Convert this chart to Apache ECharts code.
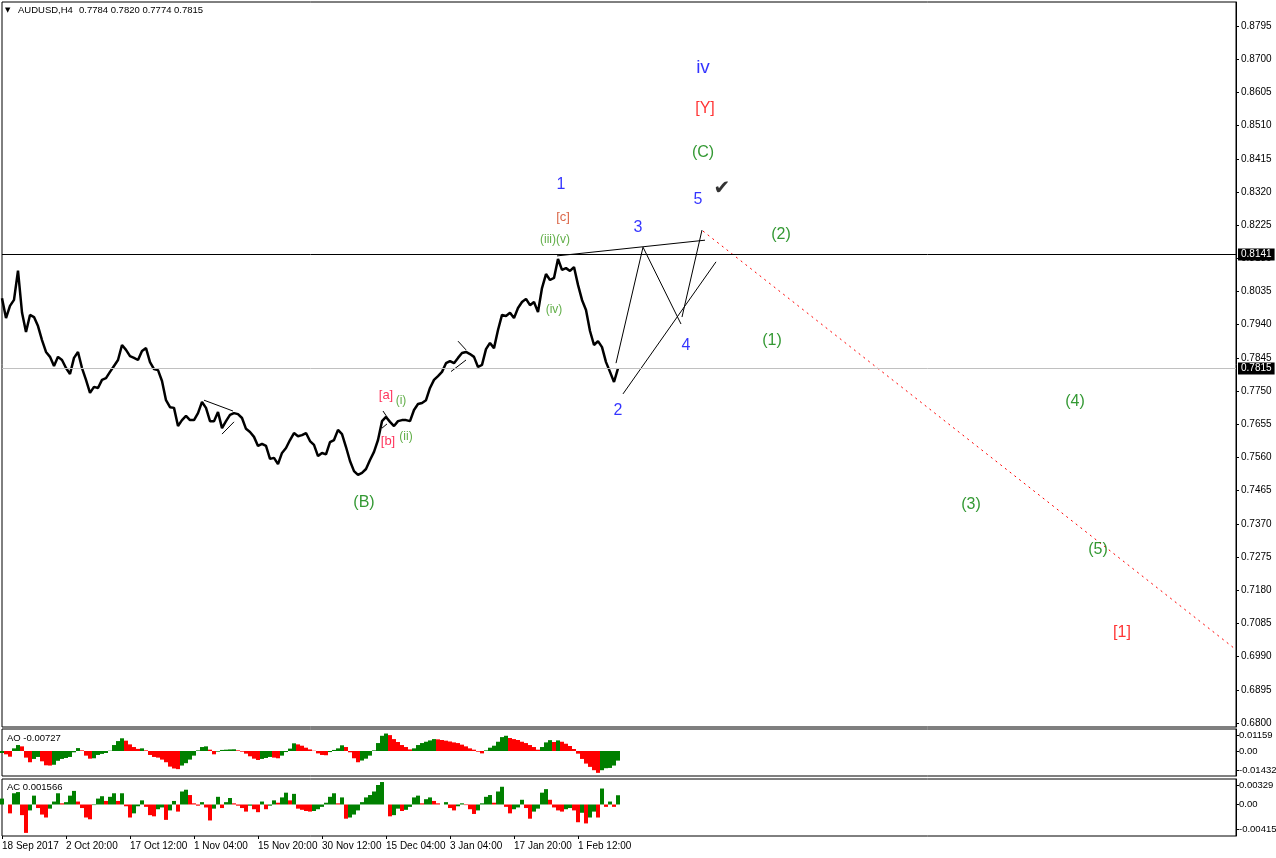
<!DOCTYPE html>
<html><head><meta charset="utf-8">
<script src="https://cdn.jsdelivr.net/npm/echarts@6/dist/echarts.min.js"></script>
<style>html,body{margin:0;padding:0;background:#fff}#c{width:1276px;height:858px}</style>
</head><body><div id="c"></div>
<script>
// ---------- data ----------
const STEP = 4;               // bars between samples
const BARS_PER_LABEL = 64;    // bars between time labels
const TOTAL_BARS = 1234;      // visible bars incl. future space
const timeLabels = ['18 Sep 2017','2 Oct 20:00','17 Oct 12:00','1 Nov 04:00','15 Nov 20:00','30 Nov 12:00','15 Dec 04:00','3 Jan 04:00','17 Jan 20:00','1 Feb 12:00'];
const priceTicks = [0.8795,0.8700,0.8605,0.8510,0.8415,0.8320,0.8225,0.8130,0.8035,0.7940,0.7845,0.7750,0.7655,0.7560,0.7465,0.7370,0.7275,0.7180,0.7085,0.6990,0.6895,0.6800];
const aoTicks = [0.01159, 0, -0.01432];
const acTicks = [0.00329, 0, -0.00415];
const symbolName = 'AUDUSD,H4';
const lastBar = [0.7784, 0.7820, 0.7774, 0.7815];
const levelLine = 0.8141;
const bidLine = 0.7815;

const closes = [
0.8016,0.7959,0.7994,0.8011,0.8095,0.7975,0.7919,0.7968,0.7962,0.7936,
0.7896,0.7862,0.7848,0.7822,0.7848,0.7839,0.7816,0.7799,0.7845,0.7862,
0.7816,0.7782,0.7745,0.7762,0.7759,0.7782,0.7787,0.7805,0.7822,0.7839,
0.7882,0.7868,0.7850,0.7845,0.7839,0.7865,0.7873,0.7833,0.7813,0.7810,
0.7779,0.7724,0.7704,0.7702,0.7650,0.7667,0.7679,0.7667,0.7667,0.7687,
0.7719,0.7702,0.7664,0.7664,0.7690,0.7644,0.7664,0.7682,0.7687,0.7684,
0.7673,0.7642,0.7633,0.7619,0.7593,0.7599,0.7593,0.7556,0.7559,0.7541,
0.7573,0.7587,0.7610,0.7630,0.7621,0.7624,0.7630,0.7607,0.7596,0.7564,
0.7573,0.7569,0.7604,0.7610,0.7639,0.7627,0.7590,0.7550,0.7521,0.7510,
0.7516,0.7527,0.7553,0.7576,0.7610,0.7664,0.7676,0.7662,0.7650,0.7664,
0.7667,0.7667,0.7664,0.7696,0.7713,0.7716,0.7724,0.7759,0.7782,0.7793,
0.7805,0.7830,0.7836,0.7830,0.7845,0.7859,0.7862,0.7856,0.7848,0.7819,
0.7825,0.7870,0.7888,0.7873,0.7925,0.7968,0.7965,0.7974,0.7959,0.7988,
0.8005,0.8014,0.7996,0.8005,0.7976,0.8045,0.8085,0.8068,0.8074,0.8128,
0.8097,0.8102,0.8094,0.8105,0.8054,0.8011,0.7982,0.7922,0.7882,0.7893,
0.7876,0.7833,0.7805,0.7776,0.7815];

const ao = [
-0.0015,-0.0025,-0.0043,0.002,0.0045,0.0035,-0.005,-0.0085,-0.006,-0.0045,
-0.0078,-0.0108,-0.011,-0.0104,-0.0074,-0.006,-0.0053,-0.0045,-0.001,0.0022,
0.0005,-0.0035,-0.0058,-0.0055,-0.003,-0.0022,-0.0015,0.0002,0.0045,0.0075,
0.0096,0.0078,0.005,0.003,0.0016,0.002,0.0005,-0.003,-0.0045,-0.005,
-0.0065,-0.0085,-0.0118,-0.0132,-0.0137,-0.011,-0.0092,-0.0065,-0.0035,0.0005,
0.003,0.0035,0.001,-0.0025,-0.0005,0.0008,0.001,0.0012,0.0013,0.0005,
-0.0005,-0.002,-0.004,-0.0058,-0.0068,-0.006,-0.0053,-0.0045,-0.005,-0.0055,
-0.0035,-0.0008,0.0018,0.0058,0.005,0.004,0.0025,0.0012,0.0002,-0.0018,
-0.003,-0.0032,-0.0008,0.0008,0.002,0.0043,0.003,-0.001,-0.0055,-0.0085,
-0.0072,-0.0058,-0.0035,0.0005,0.006,0.0115,0.0132,0.012,0.009,0.0068,
0.0045,0.003,0.0012,0.002,0.0045,0.006,0.007,0.008,0.009,0.0088,
0.0083,0.0078,0.0072,0.0065,0.006,0.0048,0.0035,0.002,0.001,-0.0005,
-0.0018,0.0005,0.0025,0.004,0.007,0.0105,0.0115,0.0098,0.009,0.0083,
0.007,0.006,0.0045,0.003,0.001,0.003,0.0065,0.0082,0.0068,0.008,
0.007,0.0055,0.0038,0.0015,-0.002,-0.006,-0.0095,-0.012,-0.0145,-0.0165,
-0.0145,-0.013,-0.0128,-0.011,-0.00727];

const ac = [
0.001,0,-0.0015,0.0019,0.0021,-0.0018,-0.0048,-0.001,0.0015,-0.0006,
-0.0017,-0.0022,-0.0007,0.0005,0.0019,0.0002,0.0004,0.0015,0.0023,0.0005,
-0.0006,-0.0022,-0.0025,-0.0001,0.001,0.0014,0.0006,0.0013,0.0019,0.0006,
0.0019,-0.0003,-0.0022,-0.0015,-0.0003,0.0007,-0.0004,-0.0018,-0.002,-0.0008,
-0.0005,-0.0026,-0.001,0.0006,-0.0012,0.0022,0.0025,0.0016,0.0002,-0.0002,
0.0004,-0.0005,-0.0027,-0.0007,0.0013,-0.0006,0.0004,0.0011,0.0002,-0.0002,
-0.0006,-0.0012,-0.0002,-0.0008,-0.0013,0.0005,-0.0008,-0.0002,0.0007,0.0003,
0.0012,0.002,0.0007,0.0018,-0.0007,-0.0009,-0.0011,-0.0012,-0.0011,-0.0008,
-0.0004,0.0003,0.0013,0.0019,0.0002,0.0012,-0.0024,-0.0022,-0.0017,-0.001,
0.0004,0.0012,0.0016,0.0022,0.0033,0.0038,0,-0.002,-0.0018,-0.0007,
-0.0011,-0.0009,-0.0004,0.0012,0.0015,0.0002,0.0009,0.0012,0.0006,0.0002,
0,0.0004,-0.0006,-0.001,-0.0003,0.0002,-0.0001,-0.0008,-0.0016,-0.001,
0.0002,0.0013,0.0016,0.0003,0.0022,0.003,-0.0004,-0.0015,-0.0008,-0.0005,
0.0008,-0.0006,-0.0024,-0.0012,-0.0007,0.002,0.0026,0.0008,-0.0005,-0.001,
-0.0012,-0.0008,-0.0006,-0.001,-0.003,-0.0014,-0.0032,-0.0022,-0.0012,-0.0022,
0.0027,-0.0004,0.0005,-0.0004,0.001566];

// wave labels: [bar, price, text]
const blueBig     = [[701,0.8675,'iv']];
const blueLabels  = [[696,0.8297,'5'],[559,0.8340,'1'],[636,0.8217,'3'],[684,0.7879,'4'],[616,0.7693,'2']];
const redLabels   = [[703,0.8560,'[Y]'],[1120,0.7058,'[1]']];
const redSmall    = [[384,0.7739,'[a]'],[386,0.7607,'[b]']];
const brownSmall  = [[561,0.8248,'[c]']];
const greenLabels = [[701,0.8432,'(C)'],[779,0.8197,'(2)'],[770,0.7896,'(1)'],[362,0.7430,'(B)'],[1073,0.7719,'(4)'],[969,0.7424,'(3)'],[1096,0.7295,'(5)']];
const greenSmall  = [[553,0.8182,'(iii)(v)'],[552,0.7982,'(iv)'],[399,0.7722,'(i)'],[404,0.7619,'(ii)']];
const checkMarks  = [[720,0.8330,'\u2714']];

// drawn trend / wave lines: lists of [bar, price]
const waveLines = [
  [[614,0.7830],[641,0.8162],[679,0.7942]],
  [[680,0.7962],[700,0.8211]],
  [[555,0.8137],[703,0.8182]],
  [[621,0.7742],[714,0.8120]],
  [[202,0.7724],[231,0.7693]],
  [[220,0.7627],[232,0.7662]],
  [[456,0.7893],[464,0.7868]],
  [[449,0.7806],[464,0.7839]],
  [[381,0.7693],[385,0.7676]],
  [[380,0.7644],[385,0.7656]]
];
const forecastLine = [[701,0.8208],[1234,0.7010]];

// ---------- chart ----------
const FONT = 'Liberation Sans';
const chart = echarts.init(document.getElementById('c'), null, {renderer:'canvas'});

function colored(arr) {
  return arr.map((v, i) => ({
    value: [i * STEP, v],
    itemStyle: { color: (i > 0 && v < arr[i-1]) ? '#ff0000' : '#008000' }
  }));
}
function labelSeries(arr, color, size, family) {
  return {
    type: 'scatter', xAxisIndex: 0, yAxisIndex: 0, symbolSize: 1, silent: true, z: 6,
    itemStyle: { color: 'rgba(0,0,0,0)' },
    data: arr.map(d => ({ value: [d[0], d[1]], name: d[2] })),
    label: { show: true, position: 'inside', formatter: p => p.name, color: color, fontSize: size, fontFamily: family || FONT }
  };
}
const hiddenX = i => ({ type: 'value', gridIndex: i, min: 0, max: TOTAL_BARS, show: false, axisLine: { onZero: false } });
const yAxisCommon = (i, min, max, ticks, fmt, fs, mg) => ({
  type: 'value', gridIndex: i, position: 'right', min: min, max: max, scale: true,
  splitLine: { show: false },
  axisLine: { show: true, onZero: false, lineStyle: { color: '#000', width: 1 } },
  axisTick: { show: true, length: 3, lineStyle: { color: '#000' }, customValues: ticks },
  axisLabel: { customValues: ticks, formatter: fmt, color: '#000', fontSize: fs, fontFamily: FONT, margin: mg }
});
const labelTicks = timeLabels.map((t, i) => i * BARS_PER_LABEL);
const lastAO = ao[ao.length - 1], lastAC = ac[ac.length - 1];
const gridBase = { left: 2, width: 1234, show: true, borderColor: '#000', borderWidth: 1, backgroundColor: '#fff', containLabel: false, outerBoundsMode: 'none' };

const series = [
  {
    type: 'line', xAxisIndex: 0, yAxisIndex: 0, symbol: 'none', silent: true, z: 3,
    data: closes.map((v, i) => [i * STEP, v]),
    lineStyle: { color: '#000', width: 2.5 },
    markLine: {
      silent: true, symbol: ['none', 'none'], animation: false, precision: 4,
      data: [
        { yAxis: levelLine, lineStyle: { color: '#000', width: 1, type: 'solid' } },
        { yAxis: bidLine, lineStyle: { color: '#c0c0c0', width: 1, type: 'solid' } }
      ],
      label: { show: true, position: 'end', distance: 2, formatter: p => Number(p.value).toFixed(4),
        color: '#fff', backgroundColor: '#000', padding: [1, 3, 1, 3], fontSize: 10, fontFamily: FONT }
    }
  },
  ...waveLines.map(seg => ({ type: 'line', xAxisIndex: 0, yAxisIndex: 0, symbol: 'none', silent: true, z: 4,
    data: seg, lineStyle: { color: '#000', width: 1 } })),
  { type: 'line', xAxisIndex: 0, yAxisIndex: 0, symbol: 'none', silent: true, z: 4,
    data: forecastLine, lineStyle: { color: '#ff0000', width: 1, type: [2, 4] } },
  labelSeries(blueBig, '#0000ff', 19),
  labelSeries(blueLabels, '#0000ff', 16),
  labelSeries(redLabels, '#ff0000', 16),
  labelSeries(redSmall, '#ff0033', 13),
  labelSeries(brownSmall, '#d2401a', 13),
  labelSeries(greenLabels, '#008000', 16),
  labelSeries(greenSmall, '#3a9a1a', 12),
  labelSeries(checkMarks, '#000', 20, 'DejaVu Sans'),
  { type: 'bar', xAxisIndex: 1, yAxisIndex: 1, barWidth: STEP, silent: true, data: colored(ao) },
  { type: 'bar', xAxisIndex: 2, yAxisIndex: 2, barWidth: STEP, silent: true, data: colored(ac) }
];

chart.setOption({
  animation: false,
  backgroundColor: '#fff',
  grid: [
    Object.assign({ top: 2, height: 725 }, gridBase),
    Object.assign({ top: 729, height: 47 }, gridBase),
    Object.assign({ top: 779, height: 57 }, gridBase)
  ],
  xAxis: [
    hiddenX(0), hiddenX(1),
    { type: 'value', gridIndex: 2, min: 0, max: TOTAL_BARS,
      splitLine: { show: false }, axisLine: { show: false, onZero: false },
      axisTick: { show: true, length: 3, lineStyle: { color: '#000' }, customValues: labelTicks },
      axisLabel: { customValues: labelTicks, formatter: v => timeLabels[Math.round(v / BARS_PER_LABEL)] || '',
        align: 'left', color: '#000', fontSize: 10, fontFamily: FONT, margin: 5 } }
  ],
  yAxis: [
    yAxisCommon(0, 0.67886, 0.88637, priceTicks, v => v.toFixed(4), 10, 5),
    yAxisCommon(1, -0.018882, 0.016616, aoTicks, v => v === 0 ? '0.00' : v.toFixed(5), 9.5, 3),
    yAxisCommon(2, -0.005326, 0.004312, acTicks, v => v === 0 ? '0.00' : v.toFixed(5), 9.5, 3)
  ],
  graphic: [
    { type: 'text', left: 5, top: 7, style: { text: '\u25BC', fontSize: 7, fontFamily: 'DejaVu Sans', fill: '#000' } },
    { type: 'text', left: 18, top: 5, style: { text: symbolName, fontSize: 9.5, fontFamily: FONT, fill: '#000' } },
    { type: 'text', left: 79, top: 5, style: { text: lastBar.map(v => v.toFixed(4)).join(' '), fontSize: 9.5, fontFamily: FONT, fill: '#000' } },
    { type: 'text', left: 7, top: 733, style: { text: 'AO ' + lastAO.toFixed(5), fontSize: 9.5, fontFamily: FONT, fill: '#000' } },
    { type: 'text', left: 7, top: 782, style: { text: 'AC ' + lastAC.toFixed(6), fontSize: 9.5, fontFamily: FONT, fill: '#000' } }
  ],
  series: series
});
</script>
</body></html>
